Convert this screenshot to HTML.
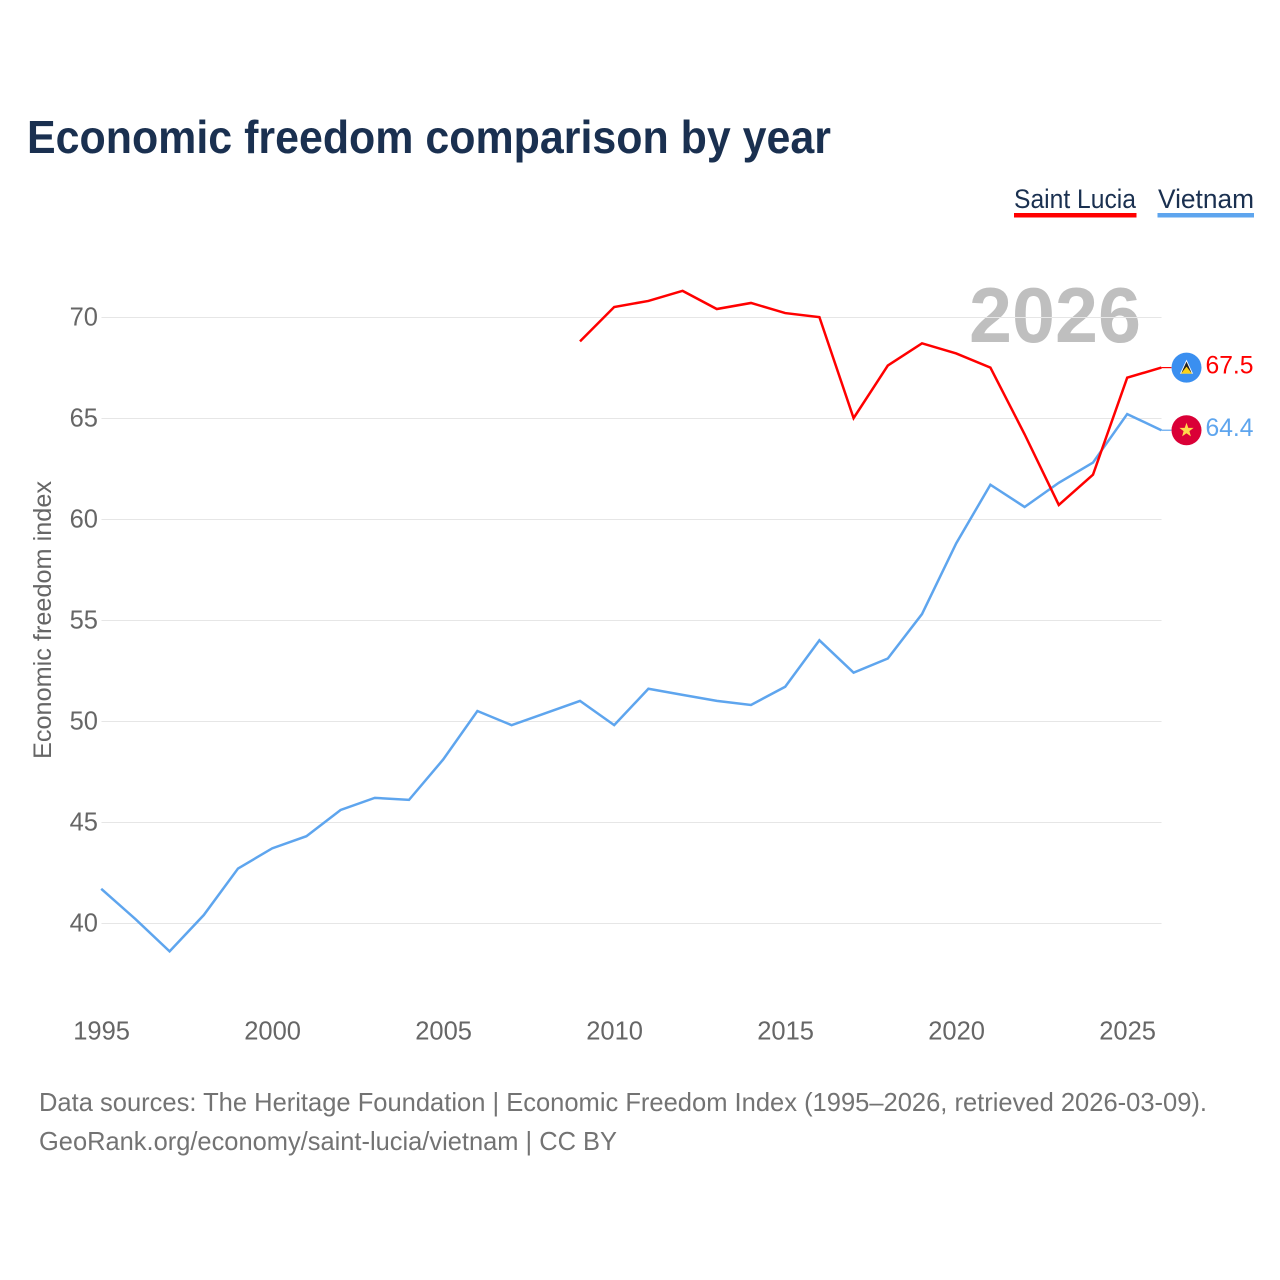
<!DOCTYPE html>
<html lang="en">
<head>
<meta charset="utf-8">
<title>Economic freedom comparison by year</title>
<style>
  html, body { margin: 0; padding: 0; background: #fff; }
  svg { display: block; font-family: "Liberation Sans", sans-serif; }
</style>
</head>
<body>
<svg id="chart" xmlns="http://www.w3.org/2000/svg" width="1280" height="1280" viewBox="0 0 1280 1280">
  <rect width="1280" height="1280" fill="#ffffff"/>
  <text x="27" y="153" font-size="46" font-weight="700" fill="#1a3050" textLength="804" lengthAdjust="spacingAndGlyphs">Economic freedom comparison by year</text>

  <g>
    <g>
      <text x="1014" y="208" font-size="27" fill="#1a3050" textLength="122" lengthAdjust="spacingAndGlyphs">Saint Lucia</text>
      <rect x="1014" y="213" width="122.5" height="4.5" fill="#ff0000"/>
    </g>
    <g>
      <text x="1158" y="208" font-size="27" fill="#1a3050" textLength="96" lengthAdjust="spacingAndGlyphs">Vietnam</text>
      <rect x="1157.5" y="213" width="96.5" height="4.5" fill="#5ea5ee"/>
    </g>
  </g>

  <text x="969" y="342" font-size="78" font-weight="700" fill="#bfbfbf" textLength="172" lengthAdjust="spacingAndGlyphs">2026</text>

  <g id="grid"></g>
  <g id="y-axis"></g>
  <g id="x-axis"></g>
  <text transform="translate(51 620) rotate(-90)" text-anchor="middle" font-size="25" fill="#666666" textLength="278" lengthAdjust="spacingAndGlyphs">Economic freedom index</text>
  <g id="series"></g>
  <g id="end-labels"></g>

  <g>
    <text x="39" y="1111" font-size="26" fill="#737373" textLength="1168" lengthAdjust="spacingAndGlyphs">Data sources: The Heritage Foundation | Economic Freedom Index (1995–2026, retrieved 2026-03-09).</text>
    <text x="39" y="1150" font-size="26" fill="#737373" textLength="578" lengthAdjust="spacingAndGlyphs">GeoRank.org/economy/saint-lucia/vietnam | CC BY</text>
  </g>
</svg>
<script>
const years = [1995,1996,1997,1998,1999,2000,2001,2002,2003,2004,2005,2006,2007,2008,2009,2010,2011,2012,2013,2014,2015,2016,2017,2018,2019,2020,2021,2022,2023,2024,2025,2026];
const vietnamValues = [41.7,40.2,38.6,40.4,42.7,43.7,44.3,45.6,46.2,46.1,48.1,50.5,49.8,50.4,51.0,49.8,51.6,51.3,51.0,50.8,51.7,54.0,52.4,53.1,55.3,58.8,61.7,60.6,61.8,62.8,65.2,64.4];
const saintLuciaValues = [null,null,null,null,null,null,null,null,null,null,null,null,null,null,68.8,70.5,70.8,71.3,70.4,70.7,70.2,70.0,65.0,67.6,68.7,68.2,67.5,64.2,60.7,62.2,67.0,67.5];
const yTickLabels = [40,45,50,55,60,65,70];
const xTickLabels = [1995,2000,2005,2010,2015,2020,2025];

const NS = 'http://www.w3.org/2000/svg';
function xScale(year) { return 101.2 + (year - 1995) * 34.2; }
function yScale(value) { return 923.1 - (value - 40) * 20.2; }
function make(tag, attrs, parent) {
  const el = document.createElementNS(NS, tag);
  for (const k in attrs) el.setAttribute(k, attrs[k]);
  parent.appendChild(el);
  return el;
}

const gridGroup = document.getElementById('grid');
const yAxisGroup = document.getElementById('y-axis');
yTickLabels.forEach(function (tick) {
  const line = make('line', { x1: 101.5, x2: 1161.5, y1: yScale(tick) + 0.4, y2: yScale(tick) + 0.4, stroke: '#e6e6e6', 'stroke-width': 1 }, gridGroup);
  
  
  const label = make('text', { x: 98, y: yScale(tick) + 8.6, 'text-anchor': 'end', 'font-size': 25.5, fill: '#666666' }, yAxisGroup);
  
  
  label.textContent = tick;
});

const xAxisGroup = document.getElementById('x-axis');
xTickLabels.forEach(function (tick) {
  const label = make('text', { x: xScale(tick) + 0.4, y: 1039.5, 'text-anchor': 'middle', 'font-size': 25.5, fill: '#666666' }, xAxisGroup);
  
  
  label.textContent = tick;
});

function pathFor(values) {
  let d = '';
  values.forEach(function (v, i) {
    if (v === null) return;
    d += (d ? 'L' : 'M') + xScale(years[i]).toFixed(2) + ' ' + yScale(v).toFixed(2);
  });
  return d;
}

const seriesGroup = document.getElementById('series');
const vietnamLine = make('path', { d: pathFor(vietnamValues), fill: 'none', stroke: '#5ea5ee', 'stroke-width': 2.5, 'stroke-linejoin': 'miter' }, seriesGroup);


const luciaLine = make('path', { d: pathFor(saintLuciaValues), fill: 'none', stroke: '#ff0000', 'stroke-width': 2.5, 'stroke-linejoin': 'miter' }, seriesGroup);



const endGroup = document.getElementById('end-labels');

/* Saint Lucia end marker */
const luciaEndY = yScale(saintLuciaValues[saintLuciaValues.length - 1]);
const luciaX = xScale(years[years.length - 1]);
const luciaLeader = make('line', { x1: luciaX, x2: luciaX + 10, y1: luciaEndY, y2: luciaEndY, stroke: '#ff0000', 'stroke-width': 1.2 }, endGroup);


const luciaFlag = make('g', { transform: 'translate(1186.5 ' + luciaEndY + ')' }, endGroup);


make('circle', { r: 15, fill: '#3a8ff0' }, luciaFlag);
make('path', { d: 'M0 -8 L6.5 6 L-6.5 6 Z', fill: '#ffffff' }, luciaFlag);
make('path', { d: 'M0 -6 L5 5 L-5 5 Z', fill: '#222222' }, luciaFlag);
make('path', { d: 'M0 -1 L5.5 6 L-5.5 6 Z', fill: '#fcd116' }, luciaFlag);
const luciaValueLabel = make('text', { x: 1205.5, y: luciaEndY + 6, 'font-size': 25, fill: '#ff0000', textLength: 48, lengthAdjust: 'spacingAndGlyphs' }, endGroup);


luciaValueLabel.textContent = saintLuciaValues[saintLuciaValues.length - 1].toFixed(1);

/* Vietnam end marker */
const vietnamEndY = yScale(vietnamValues[vietnamValues.length - 1]);
const vietnamLeader = make('line', { x1: luciaX, x2: luciaX + 10, y1: vietnamEndY, y2: vietnamEndY, stroke: '#5ea5ee', 'stroke-width': 1.2 }, endGroup);


const vietnamFlag = make('g', { transform: 'translate(1186.5 ' + vietnamEndY + ')' }, endGroup);


make('circle', { r: 15, fill: '#da0037' }, vietnamFlag);
make('path', { d: 'M0 -7.5 L1.8 -2.3 L7.1 -2.3 L2.9 0.9 L4.4 6.1 L0 3 L-4.4 6.1 L-2.9 0.9 L-7.1 -2.3 L-1.8 -2.3 Z', fill: '#ffd84d' }, vietnamFlag);
const vietnamValueLabel = make('text', { x: 1205.5, y: vietnamEndY + 6, 'font-size': 25, fill: '#5ea5ee', textLength: 48, lengthAdjust: 'spacingAndGlyphs' }, endGroup);


vietnamValueLabel.textContent = vietnamValues[vietnamValues.length - 1].toFixed(1);
</script>
</body>
</html>
